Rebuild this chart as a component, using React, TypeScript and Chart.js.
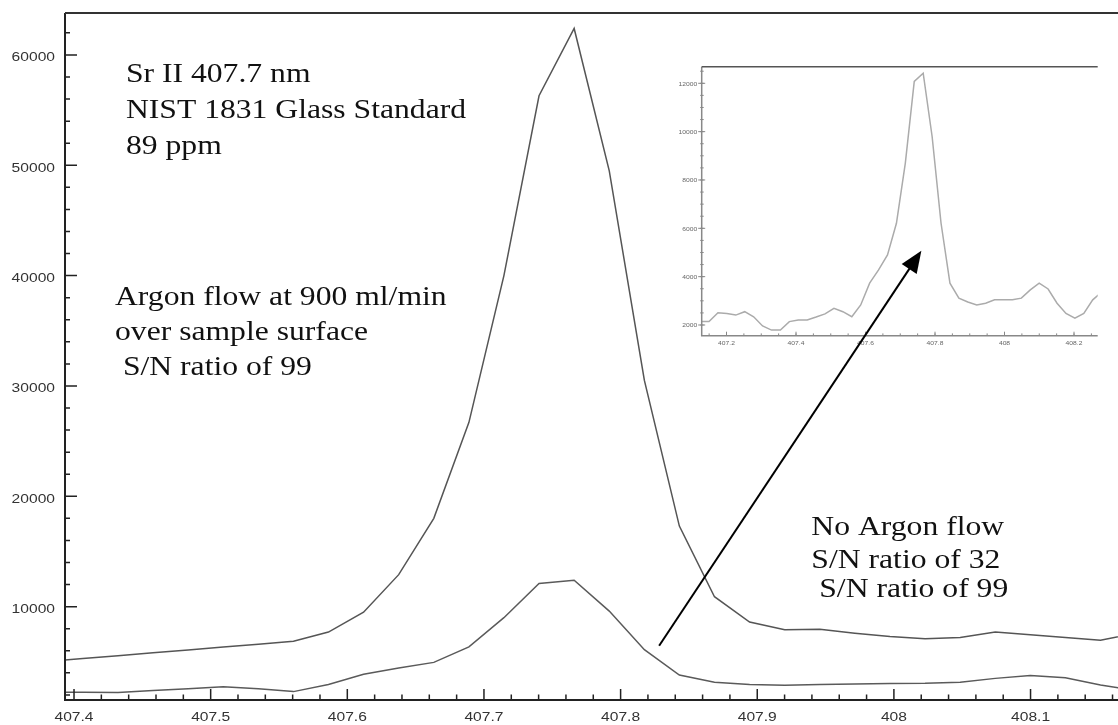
import React, { useEffect, useRef } from "react";
import { Chart, registerables } from "chart.js";

Chart.register(...registerables);

// ---------- Main chart data (wavelength in nm, intensity in counts) ----------
const wavelengths = [
  407.3808, 407.4065, 407.4322, 407.4578, 407.4835, 407.5092, 407.5349, 407.5606,
  407.5862, 407.6119, 407.6376, 407.6633, 407.689, 407.7146, 407.7403, 407.766,
  407.7917, 407.8174, 407.843, 407.8687, 407.8944, 407.9201, 407.9458, 407.9714,
  407.9971, 408.0228, 408.0485, 408.0742, 408.0998, 408.1255, 408.1512, 408.1769,
];

const argonFlowCounts = [
  5030, 5290, 5550, 5820, 6080, 6340, 6600, 6870,
  7700, 9500, 12900, 18000, 26700, 40000, 56300, 62400,
  49500, 30500, 17300, 10900, 8600, 7900, 7950, 7600,
  7300, 7100, 7200, 7700, 7450, 7200, 6950, 7600,
];

const noArgonCounts = [
  2250, 2240, 2230, 2400, 2550, 2730, 2550, 2300,
  2950, 3880, 4450, 4950, 6350, 9000, 12100, 12400,
  9600, 6100, 3800, 3150, 2950, 2880, 2950, 3000,
  3030, 3050, 3150, 3500, 3750, 3550, 2900, 2400,
];

const xTickValues = [407.4, 407.5, 407.6, 407.7, 407.8, 407.9, 408.0, 408.1];
const xTickLabels = ["407.4", "407.5", "407.6", "407.7", "407.8", "407.9", "408", "408.1"];
const yTickValues = [10000, 20000, 30000, 40000, 50000, 60000];
const yTickLabels = ["10000", "20000", "30000", "40000", "50000", "60000"];

// ---------- Inset data (no argon flow, wider range) ----------
const insetWavelengths = [
  407.124, 407.1497, 407.1754, 407.201, 407.2267, 407.2524, 407.2781, 407.3038,
  407.3294, 407.3551, 407.3808, 407.4065, 407.4322, 407.4578, 407.4835, 407.5092,
  407.5349, 407.5606, 407.5862, 407.6119, 407.6376, 407.6633, 407.689, 407.7146,
  407.7403, 407.766, 407.7917, 407.8174, 407.843, 407.8687, 407.8944, 407.9201,
  407.9458, 407.9714, 407.9971, 408.0228, 408.0485, 408.0742, 408.0998, 408.1255,
  408.1512, 408.1769, 408.2026, 408.2282, 408.2539, 408.2796,
];

const insetCounts = [
  2150, 2140, 2510, 2480, 2410, 2550, 2340, 1960,
  1790, 1790, 2140, 2210, 2210, 2330, 2460, 2690,
  2550, 2340, 2830, 3730, 4280, 4900, 6210, 8700,
  12080, 12420, 9800, 6210, 3730, 3110, 2950, 2830,
  2900, 3040, 3040, 3040, 3110, 3450, 3730, 3490,
  2900, 2480, 2280, 2480, 3040, 3370,
];

const insetXTickValues = [407.2, 407.4, 407.6, 407.8, 408.0, 408.2];
const insetXTickLabels = ["407.2", "407.4", "407.6", "407.8", "408", "408.2"];
const insetYTickValues = [2000, 4000, 6000, 8000, 10000, 12000];
const insetYTickLabels = ["2000", "4000", "6000", "8000", "10000", "12000"];

// ---------- Annotations ----------
const textBlocks = [
  { x: 407.438, y: 57550, lines: ["Sr II 407.7 nm", "NIST 1831 Glass Standard", "89 ppm"], offsets: [0, 36.5, 72.5] },
  { x: 407.43, y: 37340, lines: ["Argon flow at 900 ml/min", "over sample surface", " S/N ratio of 99"], offsets: [0, 35, 70] },
  { x: 407.9396, y: 16494, lines: ["No Argon flow", "S/N ratio of 32", " S/N ratio of 99"], offsets: [0, 33, 62] },
];
const arrowFrom = { x: 407.8282, y: 6462 };
const arrowTo = { x: 408.0201, y: 42260 };

function drawStretched(ctx: CanvasRenderingContext2D, text: string, x: number, y: number, sx: number, align: CanvasTextAlign) {
  ctx.save();
  ctx.translate(x, y);
  ctx.scale(sx, 1);
  ctx.textAlign = align;
  ctx.textBaseline = "alphabetic";
  ctx.fillText(text, 0, 0);
  ctx.restore();
}

type FrameStyle = {
  axisColor: string; axisWidth: number; tickWidth: number;
  topColor: string; topWidth: number;
  xMinor: number; yMinor: number;
  xMajorIn: number; xMajorOut: number; xMinorIn: number; xMinorOut: number;
  yMajorIn: number; yMajorOut: number; yMinorIn: number; yMinorOut: number;
  font: string; labelColor: string; sx: number;
  xLabelBaseline: number; yLabelGap: number; yLabelDy: number;
  xTicks: number[]; xLabels: string[]; yTicks: number[]; yLabels: string[];
};

function framePlugin(id: string, s: FrameStyle) {
  return {
    id,
    afterDatasetsDraw(chart: any) {
      const { ctx, chartArea: ca } = chart;
      const xs = chart.scales.x;
      const ys = chart.scales.y;
      ctx.save();
      ctx.strokeStyle = s.axisColor;
      ctx.lineWidth = s.tickWidth;
      ctx.beginPath();
      for (let i = Math.ceil(xs.min / s.xMinor - 1e-6); i * s.xMinor <= xs.max + 1e-9; i++) {
        const px = xs.getPixelForValue(i * s.xMinor);
        ctx.moveTo(px, ca.bottom + s.xMinorOut);
        ctx.lineTo(px, ca.bottom - s.xMinorIn);
      }
      for (const v of s.xTicks) {
        const px = xs.getPixelForValue(v);
        ctx.moveTo(px, ca.bottom + s.xMajorOut);
        ctx.lineTo(px, ca.bottom - s.xMajorIn);
      }
      for (let i = Math.ceil(ys.min / s.yMinor - 1e-6); i * s.yMinor <= ys.max + 1e-9; i++) {
        const py = ys.getPixelForValue(i * s.yMinor);
        ctx.moveTo(ca.left - s.yMinorOut, py);
        ctx.lineTo(ca.left + s.yMinorIn, py);
      }
      for (const v of s.yTicks) {
        const py = ys.getPixelForValue(v);
        ctx.moveTo(ca.left - s.yMajorOut, py);
        ctx.lineTo(ca.left + s.yMajorIn, py);
      }
      ctx.stroke();

      ctx.lineWidth = s.axisWidth;
      ctx.beginPath();
      ctx.moveTo(ca.left, ca.top);
      ctx.lineTo(ca.left, ca.bottom);
      ctx.lineTo(ca.right, ca.bottom);
      ctx.stroke();

      ctx.strokeStyle = s.topColor;
      ctx.lineWidth = s.topWidth;
      ctx.beginPath();
      ctx.moveTo(ca.left, ca.top);
      ctx.lineTo(ca.right, ca.top);
      ctx.stroke();

      ctx.font = s.font;
      ctx.fillStyle = s.labelColor;
      s.xTicks.forEach((v, i) =>
        drawStretched(ctx, s.xLabels[i], xs.getPixelForValue(v), ca.bottom + s.xLabelBaseline, s.sx, "center"));
      s.yTicks.forEach((v, i) =>
        drawStretched(ctx, s.yLabels[i], ca.left - s.yLabelGap, ys.getPixelForValue(v) + s.yLabelDy, s.sx, "right"));
      ctx.restore();
    },
  };
}

const annotationPlugin = {
  id: "annotations",
  afterDraw(chart: any) {
    const { ctx } = chart;
    const xs = chart.scales.x;
    const ys = chart.scales.y;
    ctx.save();
    ctx.font = '28px "Liberation Serif", "Times New Roman", serif';
    ctx.fillStyle = "#111";
    for (const b of textBlocks) {
      const px = xs.getPixelForValue(b.x);
      const py = ys.getPixelForValue(b.y);
      b.lines.forEach((t, i) => drawStretched(ctx, t, px, py + b.offsets[i], 1.13, "left"));
    }
    const x0 = xs.getPixelForValue(arrowFrom.x);
    const y0 = ys.getPixelForValue(arrowFrom.y);
    const x1 = xs.getPixelForValue(arrowTo.x);
    const y1 = ys.getPixelForValue(arrowTo.y);
    const ang = Math.atan2(y1 - y0, x1 - x0);
    const headLen = 22;
    const headHalf = 9;
    const bx = x1 - headLen * Math.cos(ang);
    const by = y1 - headLen * Math.sin(ang);
    ctx.strokeStyle = "#000";
    ctx.fillStyle = "#000";
    ctx.lineWidth = 2;
    ctx.beginPath();
    ctx.moveTo(x0, y0);
    ctx.lineTo(bx + 2 * Math.cos(ang), by + 2 * Math.sin(ang));
    ctx.stroke();
    ctx.beginPath();
    ctx.moveTo(x1, y1);
    ctx.lineTo(bx + headHalf * Math.sin(ang), by - headHalf * Math.cos(ang));
    ctx.lineTo(bx - headHalf * Math.sin(ang), by + headHalf * Math.cos(ang));
    ctx.closePath();
    ctx.fill();
    ctx.restore();
  },
};

const mainFrame = framePlugin("mainFrame", {
  axisColor: "#222", axisWidth: 2, tickWidth: 1.5,
  topColor: "#333", topWidth: 2,
  xMinor: 0.02, yMinor: 2000,
  xMajorIn: 11, xMajorOut: 1, xMinorIn: 5.5, xMinorOut: 0,
  yMajorIn: 12, yMajorOut: 0, yMinorIn: 5, yMinorOut: 0,
  font: '12px "Liberation Sans", Arial, Helvetica, sans-serif', labelColor: "#333", sx: 1.3,
  xLabelBaseline: 20.5, yLabelGap: 10, yLabelDy: 6.5,
  xTicks: xTickValues, xLabels: xTickLabels, yTicks: yTickValues, yLabels: yTickLabels,
});

const insetFrame = framePlugin("insetFrame", {
  axisColor: "#888", axisWidth: 1.5, tickWidth: 1,
  topColor: "#555", topWidth: 1.5,
  xMinor: 0.05, yMinor: 500,
  xMajorIn: 4, xMajorOut: 0, xMinorIn: 2.3, xMinorOut: 0,
  yMajorIn: 3.5, yMajorOut: 3.5, yMinorIn: 2, yMinorOut: 1.5,
  font: '6px "Liberation Sans", Arial, Helvetica, sans-serif', labelColor: "#666", sx: 1.12,
  xLabelBaseline: 9, yLabelGap: 4.4, yLabelDy: 2.2,
  xTicks: insetXTickValues, xLabels: insetXTickLabels, yTicks: insetYTickValues, yLabels: insetYTickLabels,
});

export default function App() {
  const mainRef = useRef<HTMLCanvasElement | null>(null);
  const insetRef = useRef<HTMLCanvasElement | null>(null);

  useEffect(() => {
    const mainChart = new Chart(mainRef.current as HTMLCanvasElement, {
      type: "line",
      data: {
        datasets: [
          {
            label: "Argon flow at 900 ml/min",
            data: wavelengths.map((w, i) => ({ x: w, y: argonFlowCounts[i] })),
            borderColor: "#555",
            borderWidth: 1.5,
            pointRadius: 0,
            tension: 0,
            clip: 0,
          },
          {
            label: "No Argon flow",
            data: wavelengths.map((w, i) => ({ x: w, y: noArgonCounts[i] })),
            borderColor: "#5a5a5a",
            borderWidth: 1.5,
            pointRadius: 0,
            tension: 0,
            clip: 0,
          },
        ],
      },
      options: {
        responsive: false,
        animation: false,
        events: [],
        layout: { padding: { top: 13, left: 0, right: 0, bottom: 0 } },
        plugins: { legend: { display: false }, tooltip: { enabled: false } },
        scales: {
          x: {
            type: "linear",
            min: 407.3934,
            max: 408.164,
            ticks: { display: false },
            grid: { display: false },
            border: { display: false },
            afterFit: (s: any) => { s.height = 25; },
          },
          y: {
            type: "linear",
            min: 1540,
            max: 63800,
            ticks: { display: false },
            grid: { display: false },
            border: { display: false },
            afterFit: (s: any) => { s.width = 65; },
          },
        },
      } as any,
      plugins: [mainFrame, annotationPlugin],
    });

    const insetChart = new Chart(insetRef.current as HTMLCanvasElement, {
      type: "line",
      data: {
        datasets: [
          {
            label: "No Argon flow (inset)",
            data: insetWavelengths.map((w, i) => ({ x: w, y: insetCounts[i] })),
            borderColor: "#ababab",
            borderWidth: 1.5,
            pointRadius: 0,
            tension: 0,
            clip: 0,
          },
        ],
      },
      options: {
        responsive: false,
        animation: false,
        events: [],
        layout: { padding: { top: 10.7, left: 0, right: 7.3, bottom: 0 } },
        plugins: { legend: { display: false }, tooltip: { enabled: false } },
        scales: {
          x: {
            type: "linear",
            min: 407.1286,
            max: 408.2682,
            ticks: { display: false },
            grid: { display: false },
            border: { display: false },
            afterFit: (s: any) => { s.height = 20.3; },
          },
          y: {
            type: "linear",
            min: 1557,
            max: 12687,
            ticks: { display: false },
            grid: { display: false },
            border: { display: false },
            afterFit: (s: any) => { s.width = 46.7; },
          },
        },
      } as any,
      plugins: [insetFrame],
    });

    return () => {
      mainChart.destroy();
      insetChart.destroy();
    };
  }, []);

  return (
    <div style={{ position: "fixed", left: 0, top: 0, width: 1118, height: 725, background: "#fff" }}>
      <div style={{ position: "absolute", left: 655, top: 56, width: 450, height: 300, zIndex: 1 }}>
        <canvas ref={insetRef} width={450} height={300} style={{ width: 450, height: 300, display: "block" }} />
      </div>
      <div style={{ position: "absolute", left: 0, top: 0, width: 1118, height: 725, zIndex: 2 }}>
        <canvas ref={mainRef} width={1118} height={725} style={{ width: 1118, height: 725, display: "block" }} />
      </div>
    </div>
  );
}
